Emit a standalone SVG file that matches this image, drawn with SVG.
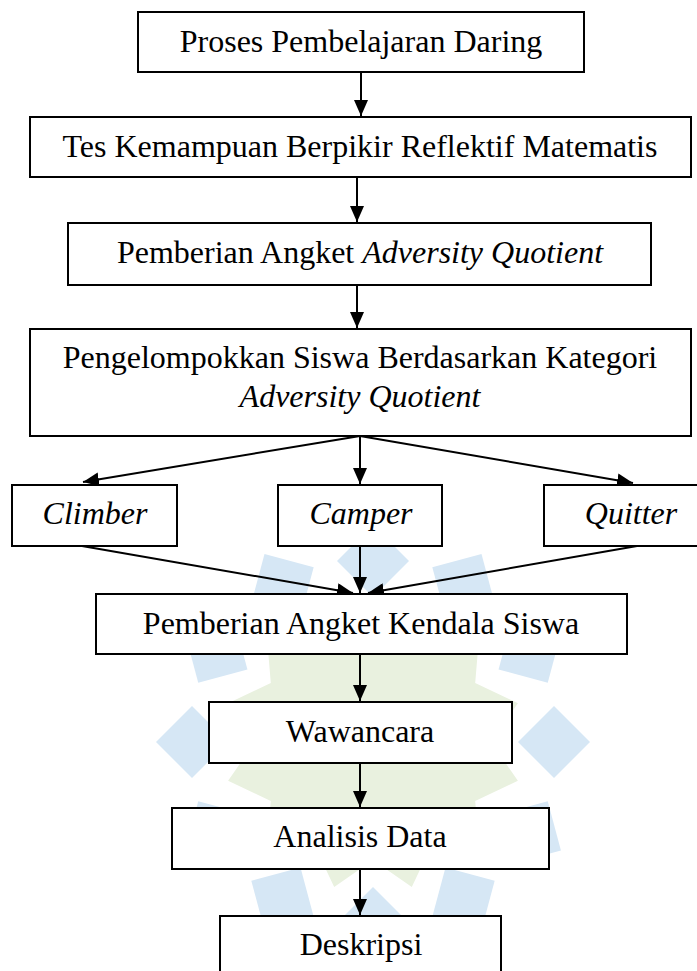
<svg xmlns="http://www.w3.org/2000/svg" xmlns:xlink="http://www.w3.org/1999/xlink" width="697" height="971" viewBox="0 0 697 971">
<style>
.box{fill:#ffffff;stroke:#000000;stroke-width:2}
.lbl{font-family:"Liberation Serif","Times New Roman",serif;font-size:32px;fill:#000000;text-anchor:middle}
.it{font-style:italic}
.con{fill:none;stroke:#000000;stroke-width:2;marker-end:url(#arr)}
.wb{fill:#d6e7f5}
.wg{fill:#e9f1df}
</style>
<defs>
<marker id="arr" viewBox="0 0 16 14" refX="16" refY="7" markerWidth="16" markerHeight="14" markerUnits="userSpaceOnUse" orient="auto">
<path d="M0,0 L16,7 L0,14 z" fill="#000000"/>
</marker>
<polygon id="dia" points="145,0 181,-36 217,0 181,36"/>
</defs>
<rect x="0" y="0" width="697" height="971" fill="#ffffff"/>
<g id="watermark" transform="translate(373,742)">
<polygon class="wg" points="118,0 144.9,38.8 102.2,59 106.1,106.1 59,102.2 38.8,144.9 0,118 -38.8,144.9 -59,102.2 -106.1,106.1 -102.2,59 -144.9,38.8 -118,0 -144.9,-38.8 -102.2,-59 -106.1,-106.1 -59,-102.2 -38.8,-144.9 0,-118 38.8,-144.9 59,-102.2 106.1,-106.1 102.2,-59 144.9,-38.8"/>
<g class="wb">
<use xlink:href="#dia"/>
<use xlink:href="#dia" transform="rotate(30)"/>
<use xlink:href="#dia" transform="rotate(60)"/>
<use xlink:href="#dia" transform="rotate(90)"/>
<use xlink:href="#dia" transform="rotate(120)"/>
<use xlink:href="#dia" transform="rotate(150)"/>
<use xlink:href="#dia" transform="rotate(180)"/>
<use xlink:href="#dia" transform="rotate(210)"/>
<use xlink:href="#dia" transform="rotate(240)"/>
<use xlink:href="#dia" transform="rotate(270)"/>
<use xlink:href="#dia" transform="rotate(300)"/>
<use xlink:href="#dia" transform="rotate(330)"/>
</g>
</g>
<g id="connectors">
<path class="con" d="M361,72 V116"/>
<path class="con" d="M357,177 V222"/>
<path class="con" d="M357,285 V328"/>
<path class="con" d="M360,436 L83,482"/>
<path class="con" d="M360,436 V484"/>
<path class="con" d="M360,436 L633,483"/>
<path class="con" d="M82,546 L353,593"/>
<path class="con" d="M360,546 V593"/>
<path class="con" d="M637,546 L368,593"/>
<path class="con" d="M360,654 V701"/>
<path class="con" d="M360,763 V807"/>
<path class="con" d="M360,869 V915"/>
</g>
<g id="n1"><rect class="box" x="138" y="12" width="446" height="60"/><text class="lbl" x="361" y="52">Proses Pembelajaran Daring</text></g>
<g id="n2"><rect class="box" x="30" y="117" width="661" height="60"/><text class="lbl" x="360" y="157">Tes Kemampuan Berpikir Reflektif Matematis</text></g>
<g id="n3"><rect class="box" x="68" y="223" width="583" height="62"/><text class="lbl" x="360" y="263">Pemberian Angket <tspan class="it">Adversity Quotient</tspan></text></g>
<g id="n4"><rect class="box" x="30" y="329" width="661" height="107"/><text class="lbl" x="360" y="368">Pengelompokkan Siswa Berdasarkan Kategori</text><text class="lbl it" x="360" y="407">Adversity Quotient</text></g>
<g id="n5"><rect class="box" x="12" y="485" width="165" height="61"/><text class="lbl it" x="95" y="524">Climber</text></g>
<g id="n6"><rect class="box" x="278" y="485" width="164" height="61"/><text class="lbl it" x="361" y="524">Camper</text></g>
<g id="n7"><rect class="box" x="544" y="485" width="172" height="61"/><text class="lbl it" x="631" y="524">Quitter</text></g>
<g id="n8"><rect class="box" x="96" y="594" width="531" height="60"/><text class="lbl" x="361" y="634">Pemberian Angket Kendala Siswa</text></g>
<g id="n9"><rect class="box" x="209" y="702" width="303" height="61"/><text class="lbl" x="360" y="742">Wawancara</text></g>
<g id="n10"><rect class="box" x="172" y="808" width="377" height="61"/><text class="lbl" x="360" y="847">Analisis Data</text></g>
<g id="n11"><rect class="box" x="220" y="916" width="281" height="70"/><text class="lbl" x="361" y="955">Deskripsi</text></g>
</svg>
